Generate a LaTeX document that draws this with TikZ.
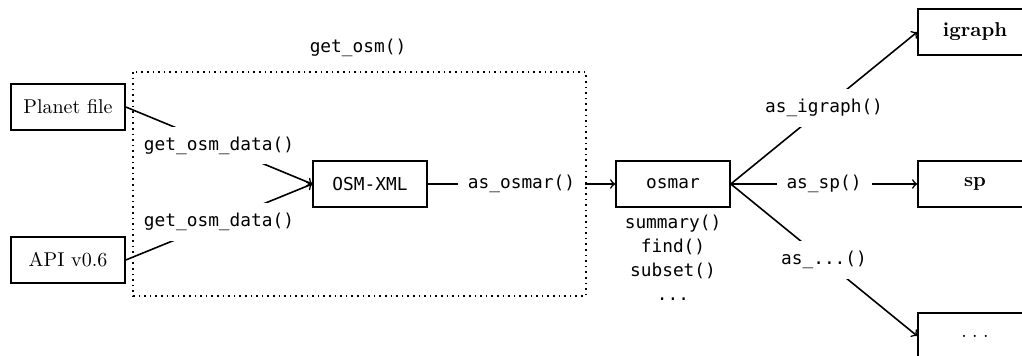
\documentclass[tikz,border=0pt]{standalone}
\usepackage{fontspec}
\setmonofont{DejaVu Sans Mono}[Scale=0.89]
\usepackage{tikz}
\usetikzlibrary{arrows}

\begin{document}
\begin{tikzpicture}[x=0.5pt,y=-0.5pt,thick,
  box/.style={draw,minimum width=57pt,minimum height=23pt,inner sep=0pt},
  fn/.style={fill=white,inner sep=5pt,font=\ttfamily}]
\useasboundingbox (0,0) rectangle (1022,356);
% inputs
\node[box] (planet) at (68,107) {Planet file};
\node[box] (api) at (68,260) {API v0.6};
\node[box,font=\ttfamily] (osmxml) at (370,184) {OSM-XML};
\node[box,font=\ttfamily] (osmar) at (673,184) {osmar};
\node[below,font=\ttfamily,align=center] (methods) at (osmar.south) {summary()\\find()\\subset()\\...};
% outputs
\node[box,font=\bfseries] (igraph) at (975,32) {igraph};
\node[box,font=\bfseries] (sp) at (975,184) {sp};
\node[box] (other) at (975,336) {.\hspace{0.27em}.\hspace{0.27em}.};
% connectors
\draw[->] (planet.east) -- node[fn] {get\_osm\_data()} (osmxml.west);
\draw[->] (api.east) -- node[fn] {get\_osm\_data()} (osmxml.west);
\draw[->] (osmxml.east) -- node[fn] {as\_osmar()} (osmar.west);
\draw[->] (osmar.east) -- node[fn] {as\_igraph()} (igraph.west);
\draw[->] (osmar.east) -- node[fn] {as\_sp()} (sp.west);
\draw[->] (osmar.east) -- node[fn] {as\_...()} (other.west);
% get_osm() wrapper
\draw[dotted] (133,72) rectangle (586,296);
\node[font=\ttfamily] (getosm) at (358,48) {get\_osm()};
\end{tikzpicture}
\end{document}
